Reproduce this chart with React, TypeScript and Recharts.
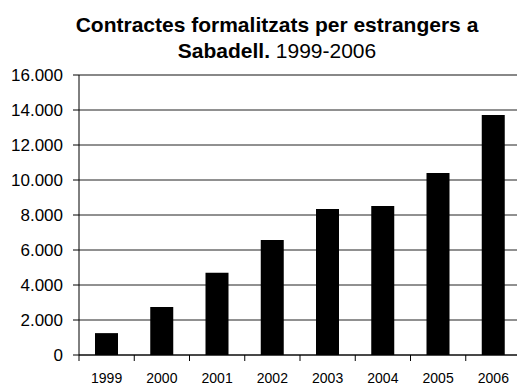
import React from 'react';
import { BarChart, Bar, XAxis, YAxis, CartesianGrid, ReferenceLine } from 'recharts';

const years = ['1999', '2000', '2001', '2002', '2003', '2004', '2005', '2006'];
const contractes = [1250, 2750, 4700, 6570, 8340, 8510, 10400, 13710];
const yTicks = [0, 2000, 4000, 6000, 8000, 10000, 12000, 14000, 16000];

const data = years.map((year, i) => ({ year, value: contractes[i] }));

const FONT = '"Liberation Sans", Arial, sans-serif';

const fmt = (v: number) => v.toString().replace(/\B(?=(\d{3})+(?!\d))/g, '.');

const XTick = (props: any) => {
  const { x, y, payload } = props;
  const off = payload && payload.offset ? payload.offset : 27.6;
  return (
    <g>
      <line x1={x - off} x2={x - off} y1={y} y2={y + 6} stroke="#000" strokeWidth={1} />
      <text x={x} y={y + 28} textAnchor="middle" fontSize={14} fontFamily={FONT} fill="#000">
        {payload.value}
      </text>
    </g>
  );
};

export default function App() {
  return (
    <div style={{ position: 'absolute', left: 0, top: 0, width: 517, height: 385, overflow: 'hidden', background: '#fff' }}>
      <div
        style={{
          position: 'absolute',
          left: 0,
          top: 0,
          width: 554,
          paddingTop: 12,
          textAlign: 'center',
          fontFamily: FONT,
          fontWeight: 'bold',
          fontSize: 21,
          lineHeight: '26px',
          color: '#000',
          zIndex: 2,
        }}
      >
        Contractes formalitzats per estrangers a
        <br />
        Sabadell.<span style={{ fontWeight: 'normal' }}> 1999-2006</span>
      </div>
      <BarChart
        width={524}
        height={385}
        data={data}
        margin={{ top: 75, right: 3, left: 0, bottom: 0 }}
      >
        <CartesianGrid horizontal={true} vertical={false} stroke="#222" strokeWidth={1} />
        <ReferenceLine y={16000} stroke="#888" strokeWidth={2} />
        <XAxis
          dataKey="year"
          height={30}
          tickSize={0}
          tickMargin={0}
          tickLine={false}
          axisLine={{ stroke: '#000', strokeWidth: 1 }}
          tick={<XTick />}
          interval={0}
        />
        <YAxis
          width={79}
          domain={[0, 16000]}
          ticks={yTicks}
          tickFormatter={fmt}
          tickSize={6}
          tickMargin={10}
          tickLine={{ stroke: '#000' }}
          axisLine={{ stroke: '#000', strokeWidth: 1 }}
          tick={{ fontSize: 17, fontFamily: FONT, fill: '#000' }}
          interval={0}
        />
        <Bar dataKey="value" fill="#000" barSize={23} isAnimationActive={false} />
      </BarChart>
    </div>
  );
}
